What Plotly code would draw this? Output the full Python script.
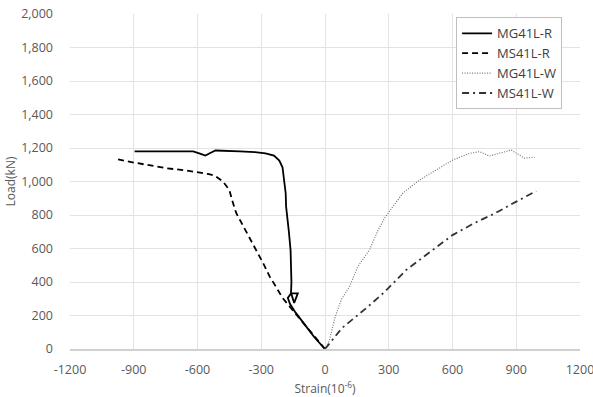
import plotly.graph_objects as go

# MG41L-R (solid)
mg_r_strain = [0, -25, -50, -80, -110, -140, -165, -175, -160, -128, -145, -160, -158, -160, -162, -170, -178, -183, -185, -192, -200, -215, -240, -280, -330, -400, -480, -515, -540, -563, -585, -620, -700, -800, -896]
mg_r_load = [0, 35, 70, 120, 170, 220, 270, 305, 332, 332, 275, 335, 400, 490, 590, 700, 780, 850, 930, 1020, 1085, 1125, 1155, 1168, 1175, 1180, 1183, 1185, 1170, 1155, 1165, 1180, 1180, 1182, 1180]

# MS41L-R (dashed)
ms_r_strain = [0, -50, -100, -150, -200, -230, -260, -290, -325, -370, -418, -435, -450, -480, -520, -551, -650, -750, -850, -930, -982]
ms_r_load = [0, 75, 150, 230, 305, 370, 432, 510, 591, 700, 812, 880, 949, 1000, 1035, 1045, 1065, 1080, 1100, 1120, 1134]

# MG41L-W (dotted)
mg_w_strain = [0, 10, 21, 45, 76, 115, 154, 209, 250, 280, 319, 366, 445, 523, 601, 680, 727, 774, 837, 876, 939, 986]
mg_w_load = [0, 20, 54, 180, 293, 372, 491, 591, 710, 780, 850, 930, 1009, 1069, 1128, 1168, 1178, 1152, 1172, 1188, 1139, 1145]

# MS41L-W (dash-dot)
ms_w_strain = [0, 80, 200, 280, 382, 508, 600, 700, 800, 900, 994]
ms_w_load = [0, 125, 250, 340, 472, 591, 680, 750, 810, 880, 943]

x_ticks = [-1200, -900, -600, -300, 0, 300, 600, 900, 1200]

fig = go.Figure()
fig.add_trace(go.Scatter(x=mg_r_strain, y=mg_r_load, mode="lines", name="MG41L-R",
                         line=dict(color="black", width=1.8, dash="solid")))
fig.add_trace(go.Scatter(x=ms_r_strain, y=ms_r_load, mode="lines", name="MS41L-R",
                         line=dict(color="black", width=1.8, dash="6px,4px")))
fig.add_trace(go.Scatter(x=mg_w_strain, y=mg_w_load, mode="lines", name="MG41L-W",
                         line=dict(color="#777777", width=1.2, dash="1px,1.5px")))
fig.add_trace(go.Scatter(x=ms_w_strain, y=ms_w_load, mode="lines", name="MS41L-W",
                         line=dict(color="#333333", width=1.8, dash="7px,4px,2px,4px")))

font_family = "Open Sans, Liberation Sans, sans-serif"
fig.update_layout(
    width=593, height=397,
    margin=dict(l=70, r=13, t=14, b=48, autoexpand=False),
    paper_bgcolor="white", plot_bgcolor="white",
    font=dict(family=font_family, size=12, color="#595959"),
    showlegend=True,
    legend=dict(x=0.757, y=0.99, xanchor="left", yanchor="top",
                bordercolor="#bfbfbf", borderwidth=1, bgcolor="white",
                font=dict(size=13, color="#404040"), tracegroupgap=2),
    xaxis=dict(range=[-1200, 1200], tickvals=x_ticks, ticktext=[str(v) for v in x_ticks],
               automargin=False,
               showgrid=True, gridcolor="#e3e3e3", zeroline=False,
               showline=True, linecolor="#d0d0d0", linewidth=1.5,
               ticks="", tickfont=dict(size=12.5), ticklabelstandoff=8,
               ticklabeloverflow="allow",
               title=dict(text="Strain(10<sup>-6</sup>)", font=dict(size=12), standoff=10)),
    yaxis=dict(range=[0, 2000], dtick=200, tickformat=",", automargin=False,
               showgrid=True, gridcolor="#e3e3e3", zeroline=False,
               showline=False, ticks="", tickfont=dict(size=12.5), ticklabelstandoff=16,
               title=dict(text="Load(kN)", font=dict(size=12), standoff=2)),
)

fig.write_html("out.html")
